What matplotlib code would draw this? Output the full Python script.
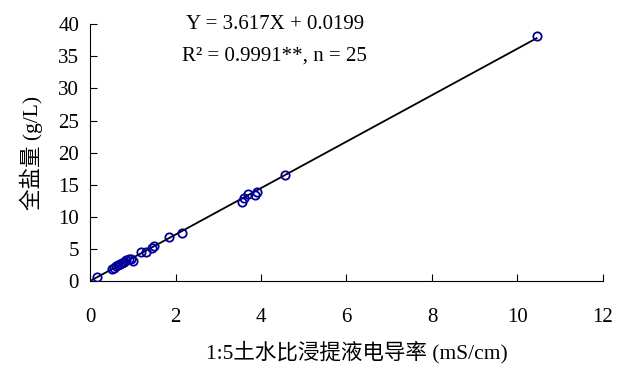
import numpy as np
import matplotlib
matplotlib.use("Agg")
import matplotlib.pyplot as plt

plt.rcParams['font.family'] = ['Liberation Serif', 'Noto Sans CJK SC']

# EC 1:5 (mS/cm) vs total salt (g/L)
ec = [0.15, 0.5, 0.55, 0.6, 0.65, 0.7, 0.75, 0.8, 0.85, 0.9, 0.95, 1.0,
      1.2, 1.3, 1.45, 1.5, 1.85, 2.15, 3.55, 3.6, 3.7, 3.85, 3.9, 4.55, 10.45]
salt = [0.6, 1.9, 2.1, 2.3, 2.5, 2.6, 2.8, 3.0, 3.3, 3.4, 3.5, 3.1,
        4.6, 4.6, 5.2, 5.4, 6.8, 7.5, 12.3, 12.9, 13.5, 13.4, 13.8, 16.6, 38.1]
slope = 3.617
icpt = 0.0199

fig = plt.figure(figsize=(6.26, 3.67), dpi=100)
ax = fig.add_axes([0.144, 0.234, 0.819, 0.700])

xl = np.array([0, max(ec)])
ax.plot(xl, slope * xl + icpt, color='black', lw=1.3, zorder=2)
ax.plot(ec, salt, 'o', mfc='none', mec='#000099', ms=6, mew=1.3, zorder=3)

ax.set_xlim(0, 12)
ax.set_ylim(0, 40)
ax.set_xticks(range(0, 13, 2))
ax.set_yticks(range(0, 41, 5))
ax.spines['top'].set_visible(False)
ax.spines['right'].set_visible(False)
ax.tick_params(direction='in', length=5, labelsize=15)
ax.tick_params(axis='x', pad=19)
ax.tick_params(axis='y', pad=8)

ax.set_xlabel('1:5土水比浸提液电导率 (mS/cm)', fontsize=15.5, labelpad=10, x=0.52)
ax.set_ylabel('全盐量 (g/L)', fontsize=15.5, labelpad=11)

ax.text(0.36, 1.0, 'Y = 3.617X + 0.0199', transform=ax.transAxes,
        ha='center', va='center', fontsize=15)
ax.text(0.36, 0.875, 'R² = 0.9991**, n = 25', transform=ax.transAxes,
        ha='center', va='center', fontsize=15)

fig.savefig('out.png', dpi=100)
